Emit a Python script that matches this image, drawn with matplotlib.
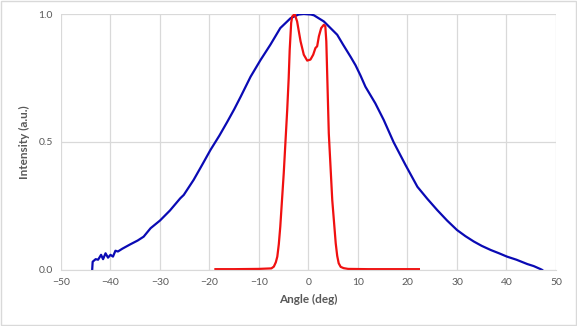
from matplotlib import pyplot as plt
from matplotlib.patches import Rectangle
from matplotlib.ticker import FormatStrFormatter

# broad emission (blue)
broad_angle = [-43.7, -43.6, -43.0, -42.5, -41.9, -41.5, -41.0, -40.5, -40.0,
               -39.5, -39.0, -38.5, -37.6, -36.0, -34.5, -33.3, -31.9, -30.0,
               -28.0, -25.9, -25.2, -23.2, -21.5, -19.8, -18.0, -16.4, -15.0,
               -13.7, -11.7, -9.7, -7.7, -5.7, -3.6, -2.0, -0.95, 0.5, 1.1,
               3.1, 5.8, 7.0, 8.5, 9.5, 10.5, 11.5, 13.5, 15.2, 17.2, 19.6,
               22.0, 24.0, 26.0, 28.0, 30.0, 31.7, 33.4, 35.0, 36.8, 38.5,
               40.1, 42.0, 44.2, 45.5, 46.9, 47.2]
broad_int = [0.0, 0.032, 0.042, 0.040, 0.059, 0.042, 0.065, 0.048, 0.059,
             0.052, 0.075, 0.072, 0.083, 0.100, 0.115, 0.130, 0.163, 0.193,
             0.232, 0.280, 0.293, 0.352, 0.410, 0.469, 0.525, 0.579, 0.628,
             0.677, 0.755, 0.820, 0.880, 0.945, 0.984, 0.998, 1.0, 0.998,
             0.995, 0.971, 0.919, 0.880, 0.833, 0.800, 0.760, 0.716, 0.651,
             0.586, 0.499, 0.410, 0.325, 0.278, 0.234, 0.193, 0.156, 0.132,
             0.111, 0.094, 0.078, 0.065, 0.052, 0.040, 0.023, 0.015, 0.003,
             0.0]

# narrow emission (red)
narrow_angle = [-18.8, -15.0, -10.0, -7.5, -7.0, -6.6, -6.3, -6.0, -5.7, -5.0,
                -4.3, -4.0, -3.8, -3.5, -3.3, -2.8, -2.3, -1.6, -0.95, -0.26,
                0.4, 0.95, 1.4, 1.75, 2.1, 2.56, 3.1, 3.4, 3.6, 3.8, 4.1, 4.8,
                5.5, 5.8, 6.1, 6.5, 7.1, 8.0, 12.0, 16.0, 20.0, 22.3]
narrow_int = [0.003, 0.003, 0.004, 0.006, 0.013, 0.030, 0.052, 0.100, 0.169,
              0.378, 0.625, 0.750, 0.859, 0.965, 0.990, 1.0, 0.971, 0.893,
              0.841, 0.818, 0.822, 0.841, 0.867, 0.874, 0.913, 0.945, 0.958,
              0.952, 0.893, 0.750, 0.534, 0.273, 0.104, 0.055, 0.026, 0.012,
              0.007, 0.004, 0.003, 0.003, 0.003, 0.003]

x_ticks = [-50, -40, -30, -20, -10, 0, 10, 20, 30, 40, 50]
y_ticks = [0.0, 0.5, 1.0]

plt.rcParams['font.family'] = ['Lato', 'DejaVu Sans']

fig = plt.figure(figsize=(5.77, 3.26), dpi=100)
ax = fig.add_axes([0.1057, 0.172, 0.8579, 0.785])

ax.plot(broad_angle, broad_int, color='#0A0AB4', lw=1.6)
ax.plot(narrow_angle, narrow_int, color='#F01010', lw=1.6)

ax.set_xlim(-50, 50)
ax.set_ylim(0, 1)
ax.set_xticks(x_ticks)
ax.set_yticks(y_ticks)
ax.yaxis.set_major_formatter(FormatStrFormatter('%.1f'))
ax.grid(True, color='#D9D9D9', lw=0.9)
ax.set_axisbelow(True)
for s in ['top', 'right', 'left']:
    ax.spines[s].set_visible(False)
ax.spines['bottom'].set_color('#D9D9D9')
ax.tick_params(length=0, labelsize=7.5, colors='#595959', pad=6)

ax.set_xlabel('Angle (deg)', fontsize=8.5, fontweight='bold', color='#595959', labelpad=5)
ax.set_ylabel('Intensity (a.u.)', fontsize=8.5, fontweight='bold', color='#595959', labelpad=6)

fig.patches.append(Rectangle((0.001, 0.002), 0.997, 0.995, transform=fig.transFigure,
                             fill=False, edgecolor='#D9D9D9', lw=1))

fig.savefig('out.png', dpi=100)
